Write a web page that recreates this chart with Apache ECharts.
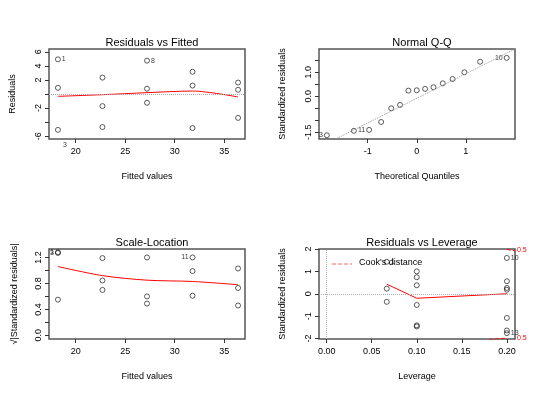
<!DOCTYPE html>
<html lang="en">
<head>
  <meta charset="UTF-8">
  <title>lm diagnostics</title>
  <script src="https://cdn.jsdelivr.net/npm/echarts@6/dist/echarts.min.js"></script>
</head>
<body style="margin: 0;">
<div id="main" style="width: 540px; height:400px;"></div>
<script type="text/javascript">
  const fitted = [18.2, 22.7, 27.2, 31.8, 36.4]
  // residuals vs fitted: [fitted, residual, label]
  const resid = [
    [18.2, 4.93, '1'], [18.2, 0.88], [18.2, -5.1],
    [22.7, 2.33], [22.7, -1.72], [22.7, -4.7],
    [27.2, 4.74, '8'], [27.2, 0.75], [27.2, -1.25],
    [31.8, 3.16], [31.8, 1.2], [31.8, -4.84],
    [36.4, 1.63], [36.4, 0.6], [36.4, -3.4]
  ]
  const residOutLabel = [[18.9, -7.3, '3']]
  const residSmooth = [-0.33, -0.1, 0.19, 0.42, -0.42]

  const qqTheo = [-1.83, -1.28, -0.97, -0.725, -0.52, -0.34, -0.17, 0, 0.17, 0.34, 0.53, 0.73, 0.97, 1.29, 1.83]
  const qqStd = [-1.625, -1.44, -1.40, -1.07, -0.5, -0.36, 0.236, 0.25, 0.31, 0.375, 0.54, 0.72, 1.0, 1.44, 1.6]
  const qqLabels = {0: '3', 2: '11', 14: '10'}
  const qqLine = [[-1.65, -1.78], [2.0, 1.97]]

  const scaleLoc = [
    [18.2, 1.28, '1'], [18.2, 1.27, '3'], [18.2, 0.55],
    [22.7, 1.19], [22.7, 0.845], [22.7, 0.70],
    [27.2, 1.2], [27.2, 0.60], [27.2, 0.49],
    [31.8, 1.2, '11'], [31.8, 0.99], [31.8, 0.61],
    [36.4, 1.03], [36.4, 0.73], [36.4, 0.46]
  ]
  const scaleSmooth = [1.06, 0.92, 0.85, 0.83, 0.78]

  const leverage = [
    [0.0667, 1.43, '1'], [0.0667, 0.23], [0.0667, -0.36],
    [0.1, 1.0], [0.1, 0.74], [0.1, 0.38], [0.1, -0.5], [0.1, -1.41], [0.1, -1.46],
    [0.2, 1.6, '10'], [0.2, 0.56], [0.2, 0.26], [0.2, 0.18], [0.2, -1.08], [0.2, -1.64], [0.2, -1.76, '13']
  ]
  const levSmoothX = [0.0667, 0.1, 0.2]
  const levSmooth = [0.43, -0.2, 0]
  const cookLow = [[0.18, -2.05], [0.2, -1.98]]
  const cookHigh = [[0.2, 1.98], [0.209, 1.92]]

  const font = 'Liberation Sans, Arial, sans-serif'
  const myChart = echarts.init(document.getElementById('main'))

  const grids = [
    {left: 49, top: 49, width: 196, height: 90},
    {left: 319, top: 49, width: 196, height: 90},
    {left: 49, top: 249, width: 196, height: 90},
    {left: 319, top: 249, width: 196, height: 90},
  ].map(g => Object.assign(g, {show: true, borderColor: '#555', borderWidth: 1.5, backgroundColor: 'transparent'}))

  const titles = ['Residuals vs Fitted', 'Normal Q-Q', 'Scale-Location', 'Residuals vs Leverage']
  const xNames = ['Fitted values', 'Theoretical Quantiles', 'Fitted values', 'Leverage']
  const yNames = ['Residuals', 'Standardized residuals', '\u221A|Standardized residuals|', 'Standardized residuals']

  function xAxis(i, min, max, ticks, fmt) {
    return {
      type: 'value', gridIndex: i, min, max, splitLine: {show: false},
      axisLine: {show: false, onZero: false},
      axisTick: {show: true, customValues: ticks, length: 4, lineStyle: {color: '#333'}},
      axisLabel: {customValues: ticks, color: '#000', fontSize: 9, fontFamily: font, margin: 8, formatter: fmt},
      name: xNames[i], nameLocation: 'middle', nameGap: 33,
      nameTextStyle: {color: '#000', fontSize: 9, fontFamily: font}
    }
  }
  function yAxis(i, min, max, ticks, labels, fmt) {
    return {
      type: 'value', gridIndex: i, min, max, splitLine: {show: false},
      axisLine: {show: false, onZero: false},
      axisTick: {show: true, customValues: ticks, length: 4, lineStyle: {color: '#333'}},
      axisLabel: {customValues: labels, color: '#000', fontSize: 9, fontFamily: font, rotate: 90, margin: 6, formatter: fmt},
      name: yNames[i], nameLocation: 'middle', nameGap: i === 2 ? 30 : 32, nameRotate: 90,
      nameTextStyle: {color: '#000', fontSize: 9, fontFamily: font}
    }
  }

  const pt = {type: 'scatter', symbol: 'circle', symbolSize: 5,
    itemStyle: {color: 'transparent', borderColor: '#000', borderWidth: 0.8},
    label: {show: true, formatter: p => p.data[2] || '', fontSize: 7, color: '#000', fontFamily: font}}
  const red = {type: 'line', smooth: 0.3, showSymbol: false, lineStyle: {color: '#f00', width: 1}, z: 1}

  const option = {
    animation: false,
    title: titles.map((t, i) => ({
      text: t, left: grids[i].left + grids[i].width / 2, top: grids[i].top - 17, textAlign: 'center',
      textStyle: {fontSize: 11, fontWeight: 'normal', color: '#000', fontFamily: font}
    })),
    grid: grids,
    xAxis: [
      xAxis(0, 17.3, 37.1, [20, 25, 30, 35]),
      xAxis(1, -1.99, 2.0, [-1, 0, 1]),
      xAxis(2, 17.3, 37.1, [20, 25, 30, 35]),
      xAxis(3, -0.0085, 0.209, [0, 0.05, 0.1, 0.15, 0.2], v => v.toFixed(2)),
    ],
    yAxis: [
      yAxis(0, -6.4, 6.4, [-6, -4, -2, 0, 2, 4, 6], [-6, -2, 2, 4, 6]),
      yAxis(1, -1.78, 1.97, [-1.5, -1, -0.5, 0, 0.5, 1, 1.5], [-1.5, 0, 1], v => v.toFixed(1)),
      yAxis(2, -0.056, 1.33, [0, 0.2, 0.4, 0.6, 0.8, 1.0, 1.2], [0, 0.4, 0.8, 1.2], v => v.toFixed(1)),
      yAxis(3, -2.02, 2.0, [-2, -1, 0, 1, 2], [-2, -1, 0, 1, 2]),
      {type: 'value', gridIndex: 3, position: 'right', min: -2.02, max: 2.0, splitLine: {show: false},
        axisLine: {show: false, onZero: false}, axisTick: {show: false},
        axisLabel: {customValues: [-2, 1.95], formatter: () => '0.5', color: '#f00', fontSize: 7, margin: 2}}
    ],
    graphic: [
      {type: 'line', shape: {x1: 332, y1: 264, x2: 352, y2: 264}, style: {stroke: '#f66', lineDash: [4, 2], lineWidth: 1}},
      {type: 'text', left: 359, top: 258, style: {text: "Cook's distance", fontSize: 9, fill: '#000', fontFamily: font}}
    ],
    series: [
      Object.assign({}, pt, {xAxisIndex: 0, yAxisIndex: 0, data: resid,
        label: Object.assign({}, pt.label, {position: 'right', distance: 1})}),
      {type: 'scatter', xAxisIndex: 0, yAxisIndex: 0, data: residOutLabel, symbolSize: 0, clip: false,
        label: {show: true, formatter: p => p.data[2], fontSize: 7, color: '#000', position: 'inside'}},
      Object.assign({}, red, {xAxisIndex: 0, yAxisIndex: 0, data: fitted.map((x, i) => [x, residSmooth[i]]),
        markLine: {silent: true, symbol: 'none', label: {show: false}, lineStyle: {color: '#aaa', type: 'dotted', width: 1}, data: [{yAxis: 0}]}}),

      {type: 'line', xAxisIndex: 1, yAxisIndex: 1, data: qqLine, showSymbol: false, lineStyle: {color: '#999', type: 'dotted', width: 1}},
      Object.assign({}, pt, {xAxisIndex: 1, yAxisIndex: 1,
        data: qqTheo.map((x, i) => [x, qqStd[i], qqLabels[i]]),
        label: Object.assign({}, pt.label, {position: 'left', distance: 1})}),

      Object.assign({}, pt, {xAxisIndex: 2, yAxisIndex: 2, data: scaleLoc,
        label: Object.assign({}, pt.label, {position: 'left', distance: 1})}),
      Object.assign({}, red, {xAxisIndex: 2, yAxisIndex: 2, data: fitted.map((x, i) => [x, scaleSmooth[i]])}),

      Object.assign({}, pt, {xAxisIndex: 3, yAxisIndex: 3, data: leverage,
        label: Object.assign({}, pt.label, {position: 'right', distance: 1})}),
      Object.assign({}, red, {xAxisIndex: 3, yAxisIndex: 3, smooth: false, data: levSmoothX.map((x, i) => [x, levSmooth[i]]),
        markLine: {silent: true, symbol: 'none', label: {show: false}, lineStyle: {color: '#aaa', type: 'dotted', width: 1},
          data: [{yAxis: 0}, {xAxis: 0}]}}),
      {type: 'line', xAxisIndex: 3, yAxisIndex: 3, data: cookLow, showSymbol: false, lineStyle: {color: '#f00', type: 'dashed', width: 1}},
      {type: 'line', xAxisIndex: 3, yAxisIndex: 3, data: cookHigh, showSymbol: false, lineStyle: {color: '#f00', type: 'dashed', width: 1}}
    ]
  }
  myChart.setOption(option)
</script>
</body>
</html>
